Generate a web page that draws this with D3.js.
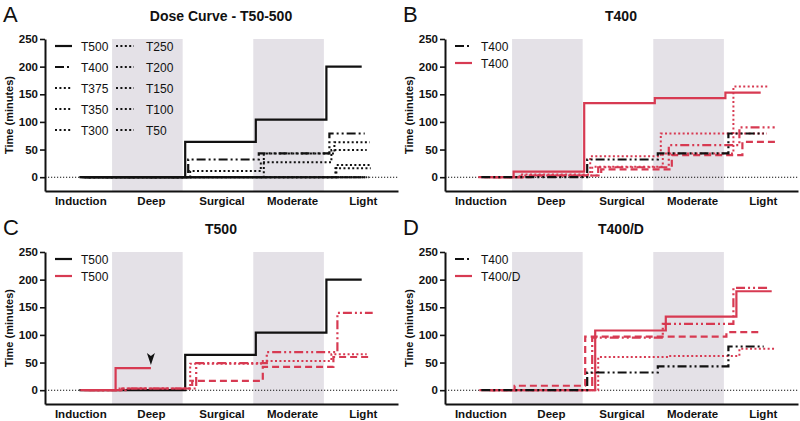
<!DOCTYPE html>
<html>
<head>
<meta charset="utf-8">
<script src="https://cdn.jsdelivr.net/npm/d3@7"></script>
<style>
  body { margin: 0; background: #fff; }
  svg { display: block; font-family: "Liberation Sans", Arial, sans-serif; }
</style>
</head>
<body>
<svg id="chart" width="800" height="421"></svg>
<script>
// stages along the x axis
const stages = ["Induction", "Deep", "Surgical", "Moderate", "Light"];
const shadedStages = ["Deep", "Moderate"];
const yTicks = [0, 50, 100, 150, 200, 250];

// panel A - dose curve (time in minutes at each stage)
const t500 = [0, 0, 64, 104, 200];
const t400 = [0, 0, 32, 43, 79];
const t375 = [0, 0, 11, 27, 49];
const t350 = [0, 0, 0, 43, 63];
const t300 = [0, 0, 0, 0, 22];
const t250 = [0, 0, 0, 0, 16];
const t200 = [0, 0, 0, 0, 0];
const t150 = [0, 0, 0, 0, 0];
const t100 = [0, 0, 0, 0, 0];
const t50 = [0, 0, 0, 0, 0];

// panel B - T400 individuals
const bRedSolid = [0, 10, 134, 143, 153];
const bRedDotted1 = [0, 5, 38, 79, 79];
const bRedDotted2 = [0, 3, 19, 43, 164];
const bRedDashDot = [0, 3, 18, 58, 90];
const bRedDashed = [0, 3, 14, 40, 64];

// panel C - T500 individuals (solid one stops at Deep)
const cRedSolid = [0, 40];
const cRedDashed = [0, 3, 17, 42, 60];
const cRedDashDot = [0, 3, 49, 69, 140];
const cRedDotted = [0, 3, 48, 53, 65];

// panel D - T400/D individuals
const dRedSolid = [0, 0, 108, 133, 179];
const dRedDashDot = [0, 0, 95, 120, 185];
const dRedDashed = [0, 8, 97, 97, 105];
const dRedDotted = [0, 0, 60, 62, 75];

const black = "#111";
const red = "#d73a52";
const band = "#e4e1e7";
const dashes = { solid: null, dashed: "7,4", dashdot: "9,3,2,3,2,3", dotted: "2,2.4" };

const panels = [
  {
    letter: "A", title: "Dose Curve - T50-500", tx: 0, ty: 0,
    series: [
      { v: t200, c: black, d: "dotted", dx: 0 },
      { v: t150, c: black, d: "dotted", dx: 2 },
      { v: t100, c: black, d: "dotted", dx: 4 },
      { v: t50, c: black, d: "dotted", dx: 6 },
      { v: t250, c: black, d: "dotted", dx: 8 },
      { v: t300, c: black, d: "dotted", dx: 9 },
      { v: t350, c: black, d: "dotted", dx: 7 },
      { v: t375, c: black, d: "dotted", dx: 4 },
      { v: t400, c: black, d: "dashdot", dx: 2 },
      { v: t500, c: black, d: "solid", dx: -1 }
    ],
    legend: [
      ["T500", black, "solid"], ["T400", black, "dashdot"], ["T375", black, "dotted"],
      ["T350", black, "dotted"], ["T300", black, "dotted"], ["T250", black, "dotted"],
      ["T200", black, "dotted"], ["T150", black, "dotted"], ["T100", black, "dotted"],
      ["T50", black, "dotted"]
    ]
  },
  {
    letter: "B", title: "T400", tx: 400, ty: 0,
    series: [
      { v: bRedDashed, c: red, d: "dashed", dx: 15 },
      { v: bRedDashDot, c: red, d: "dashdot", dx: 12 },
      { v: bRedDotted2, c: red, d: "dotted", dx: 6 },
      { v: bRedDotted1, c: red, d: "dotted", dx: 4 },
      { v: bRedSolid, c: red, d: "solid", dx: -2 },
      { v: t400, c: black, d: "dashdot", dx: 1 }
    ],
    legend: [["T400", black, "dashdot"], ["T400", red, "solid"]]
  },
  {
    letter: "C", title: "T500", tx: 0, ty: 213,
    series: [
      { v: t500, c: black, d: "solid", dx: -1 },
      { v: cRedDashed, c: red, d: "dashed", dx: 6 },
      { v: cRedDashDot, c: red, d: "dashdot", dx: 10 },
      { v: cRedDotted, c: red, d: "dotted", dx: 4 },
      { v: cRedSolid, c: red, d: "solid", dx: 0 }
    ],
    legend: [["T500", black, "solid"], ["T500", red, "solid"]],
    arrowAt: 1
  },
  {
    letter: "D", title: "T400/D", tx: 400, ty: 213,
    series: [
      { v: dRedDashed, c: red, d: "dashed", dx: -1 },
      { v: dRedDotted, c: red, d: "dotted", dx: 12 },
      { v: dRedDashDot, c: red, d: "dashdot", dx: 6 },
      { v: dRedSolid, c: red, d: "solid", dx: 9 },
      { v: t400, c: black, d: "dashdot", dx: 1 }
    ],
    legend: [["T400", black, "dashdot"], ["T400/D", red, "solid"]]
  }
];

const svg = d3.select("#chart");

const x = d3.scaleLinear().domain([-0.5, 4.5]).range([45, 398]);
const y = d3.scaleLinear().domain([-25, 250]).range([191, 39]);

const line = d3.line().curve(d3.curveStep);

panels.forEach(p => {
  const g = svg.append("g").attr("transform", `translate(${p.tx},${p.ty})`);

  // shaded stage bands
  g.selectAll("rect.band")
    .data(shadedStages)
    .enter()
    .append("rect")
    .attr("x", d => x(stages.indexOf(d) - 0.55))
    .attr("width", d => x(stages.indexOf(d) + 0.45) - x(stages.indexOf(d) - 0.55))
    .attr("y", y(250))
    .attr("height", y(-25) - y(250))
    .attr("fill", band);

  // panel letter + title
  g.append("text").attr("x", 3).attr("y", 21.5)
    .attr("font-size", "22px").attr("fill", black).text(p.letter);
  g.append("text").attr("x", 221).attr("y", 20.5)
    .attr("text-anchor", "middle").attr("font-size", "14px").attr("font-weight", "bold")
    .attr("fill", black).text(p.title);

  // zero reference line
  g.append("line")
    .attr("x1", x(-0.5)).attr("x2", x(4.5))
    .attr("y1", y(0)).attr("y2", y(0))
    .attr("stroke", black).attr("stroke-width", 1.1)
    .attr("stroke-dasharray", "1.2,1.8");

  // data lines
  p.series.forEach(s => {
    g.append("path")
      .datum(s.v)
      .attr("d", line.x((d, i) => x(i) + s.dx).y(d => y(d)))
      .attr("fill", "none")
      .attr("stroke", s.c)
      .attr("stroke-width", s.d === "dotted" ? 2 : 2.2)
      .attr("stroke-dasharray", dashes[s.d]);
  });

  // arrowhead marking the early stop
  if (p.arrowAt !== undefined) {
    const ax = x(p.arrowAt);
    const tip = y(cRedSolid[p.arrowAt]) - 3;
    g.append("path")
      .attr("d", `M${ax - 4},${tip - 12} L${ax},${tip - 9} L${ax + 4},${tip - 12} L${ax},${tip} Z`)
      .attr("fill", black);
  }

  // y axis
  const yAxis = g.append("g")
    .attr("transform", `translate(${x(-0.5)},0)`)
    .call(d3.axisLeft(y).tickValues(yTicks).tickSize(5).tickSizeOuter(0).tickPadding(2));
  yAxis.select(".domain").attr("stroke", black).attr("stroke-width", 2);
  yAxis.selectAll(".tick line").attr("stroke", black).attr("stroke-width", 1.6);
  yAxis.selectAll("text").attr("font-size", "11.5px").attr("font-weight", "bold")
    .attr("fill", black).attr("font-family", "Liberation Sans, Arial, sans-serif");

  // x axis
  const xAxis = g.append("g")
    .attr("transform", `translate(0,${y(-25)})`)
    .call(d3.axisBottom(x).tickValues(d3.range(stages.length))
      .tickFormat(i => stages[i]).tickSize(0).tickPadding(6));
  xAxis.select(".domain").attr("stroke", black).attr("stroke-width", 2);
  xAxis.selectAll("text").attr("font-size", "11.5px").attr("font-weight", "bold")
    .attr("fill", black).attr("font-family", "Liberation Sans, Arial, sans-serif");

  // y axis title
  g.append("text")
    .attr("transform", `translate(13,${(y(250) + y(-25)) / 2}) rotate(-90)`)
    .attr("text-anchor", "middle").attr("font-size", "11px").attr("font-weight", "bold")
    .attr("fill", black).text("Time (minutes)");

  // legend
  const twoCol = p.legend.length > 2;
  p.legend.forEach((l, i) => {
    const col = twoCol ? Math.floor(i / 5) : 0;
    const row = twoCol ? i % 5 : i;
    const lx = col === 0 ? 55 : 116;
    const ly = twoCol ? 46 + row * 21 : 46 + row * 17;
    g.append("line")
      .attr("x1", lx).attr("x2", lx + (col === 0 ? 17 : 18))
      .attr("y1", ly).attr("y2", ly)
      .attr("stroke", l[1]).attr("stroke-width", l[2] === "dotted" ? 2 : 2.2)
      .attr("stroke-dasharray", dashes[l[2]]);
    g.append("text")
      .attr("x", col === 0 ? 81 : 146).attr("y", ly + 4.5)
      .attr("font-size", "12px").attr("fill", black).text(l[0]);
  });
});
</script>
</body>
</html>
